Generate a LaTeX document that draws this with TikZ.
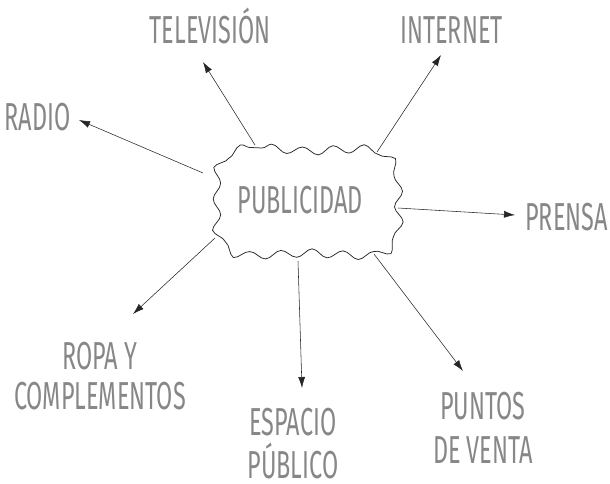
\documentclass[tikz,border=0pt]{standalone}
\usepackage{fontspec}
\usetikzlibrary{arrows.meta,decorations.pathmorphing}
\newfontfamily\hand[FakeStretch=0.6]{Fira Sans}
\begin{document}
\begin{tikzpicture}[x=1pt,y=-1pt,
  lbl/.style={font=\hand\fontsize{39}{44}\selectfont, text=black!47, inner sep=0pt, align=center},
  conn/.style={draw=black!85, line width=0.55pt, -{Latex[length=11pt,width=7pt]}},
  cloudline/.style={draw=black!85, line width=0.75pt, decorate,
    decoration={snake, segment length=31pt, amplitude=4pt}}]
\useasboundingbox (0,0) rectangle (610,483);
% labels
\node[lbl, minimum width=181pt, minimum height=106pt] (pub) at (300,200) {PUBLICIDAD};
\node[lbl, anchor=base] (tv) at (210,43) {TELEVISIÓN};
\node[lbl, anchor=base] (inet) at (451.5,43) {INTERNET};
\node[lbl, anchor=base] (radio) at (37.5,130) {RADIO};
\node[lbl, anchor=base] (prensa) at (566.5,230) {PRENSA};
\node[lbl, anchor=north] (ropa) at (100,342) {ROPA Y\\[-4pt]COMPLEMENTOS};
\node[lbl, anchor=north] (espacio) at (293,408) {ESPACIO\\[-1pt]PÚBLICO};
\node[lbl, anchor=north] (puntos) at (483,392) {PUNTOS\\DE VENTA};
% cloud outline around PUBLICIDAD
\draw[cloudline] plot[smooth cycle, tension=0.6] coordinates {
  (226,150) (262,148) (300,151) (338,149) (372,151) (388,170) (390,201)
  (389,236) (372,253) (336,254) (300,252) (262,254) (228,253) (210,236)
  (209,201) (210,167)};
% connector end points
\coordinate (sTv) at (255,145);   \coordinate (tTv) at (203,62);
\coordinate (sIn) at (377,152);   \coordinate (tIn) at (441,55);
\coordinate (sRa) at (203,173);   \coordinate (tRa) at (79,120);
\coordinate (sPr) at (398,208);   \coordinate (tPr) at (515,215);
\coordinate (sRo) at (215,238);   \coordinate (tRo) at (133,314);
\coordinate (sEs) at (298,261);   \coordinate (tEs) at (302,388);
\coordinate (sPu) at (374,254);   \coordinate (tPu) at (463,371);
\draw[conn] (sTv) -- (tTv);
\draw[conn] (sIn) -- (tIn);
\draw[conn] (sRa) -- (tRa);
\draw[conn] (sPr) -- (tPr);
\draw[conn] (sRo) -- (tRo);
\draw[conn] (sEs) -- (tEs);
\draw[conn] (sPu) -- (tPu);
\end{tikzpicture}
\end{document}
